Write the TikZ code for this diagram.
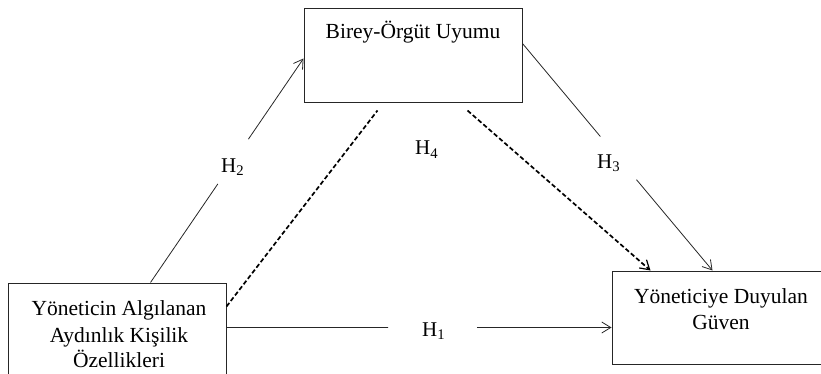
\documentclass[tikz,border=0pt]{standalone}
\usepackage{fontspec}
\setmainfont{Liberation Serif}
\usetikzlibrary{arrows.meta,calc}
\begin{document}
\begin{tikzpicture}[x=1pt,y=-1pt,
  box/.style={draw=black!85,line width=1pt,minimum width=218pt,inner sep=0pt},
  txt/.style={anchor=base,inner sep=0pt,font=\fontsize{21.5}{26.5}\selectfont},
  hlab/.style={anchor=base west,inner sep=0pt,font=\fontsize{21}{25}\selectfont},
  conn/.style={draw=black!85,line width=0.8pt},
  tip/.style={-{Straight Barb[length=9pt,width=11pt,line width=0.8pt]}},
  dline/.style={draw=black,line width=1.7pt,dash pattern=on 4.5pt off 2.5pt},
  dtip/.style={-{Straight Barb[length=9pt,width=11pt,line width=1.2pt]}}
]
\useasboundingbox (0,0) rectangle (821,374);
% boxes
\node[box,minimum height=94pt] (org) at (413,56) {};
\node[box,minimum height=110pt] (ald) at (117,338) {};
\node[box,minimum height=93pt] (rb) at (721,317.5) {};
% texts
\node[txt] (t1) at (413,39) {Birey-Örgüt Uyumu};
\node[txt] (t2) at (119,315) {Yöneticin Algılanan};
\node[txt] (t3) at (119,342) {Aydınlık Kişilik};
\node[txt] (t4) at (119,367) {Özellikleri};
\node[txt] (t5) at (721,303) {Yöneticiye Duyulan};
\node[txt] (t6) at (721,329) {Güven};
% anchor coordinates
\coordinate (h2s) at ($(ald.north west)+(143,0)$);
\coordinate (h2e) at ($(org.north west)+(0,50)$);
\coordinate (h3s) at ($(org.north east)+(0,35)$);
\coordinate (h3e) at ($(rb.north west)+(101,0)$);
\coordinate (h1s) at ($(ald.north east)+(0,45)$);
\coordinate (h1e) at ($(rb.north west)+(0,57)$);
\coordinate (d1s) at ($(ald.north east)+(0,24)$);
\coordinate (d1e) at ($(org.south west)+(74,7)$);
\coordinate (d2s) at ($(org.south west)+(164,7)$);
\coordinate (d2e) at ($(rb.north west)+(39,0)$);
% H2
\draw[conn] (h2s) -- ($(h2s)!0.44!(h2e)$);
\draw[conn,tip] ($(h2s)!0.64!(h2e)$) -- (h2e);
% H3
\draw[conn] (h3s) -- ($(h3s)!0.41!(h3e)$);
\draw[conn,tip] ($(h3s)!0.60!(h3e)$) -- (h3e);
% H1
\draw[conn] (h1s) -- ($(h1s)!0.42!(h1e)$);
\draw[conn,tip] ($(h1s)!0.65!(h1e)$) -- (h1e);
% dashed
\draw[dline] (d1s) -- (d1e);
\draw[dline,dtip] (d2s) -- (d2e);
% labels
\node[hlab] (l2) at (221,172) {H\textsubscript{2}};
\node[hlab] (l3) at (597,168) {H\textsubscript{3}};
\node[hlab] (l4) at (415,155) {H\textsubscript{4}};
\node[hlab] (l1) at (422,336) {H\textsubscript{1}};
\end{tikzpicture}
\end{document}
